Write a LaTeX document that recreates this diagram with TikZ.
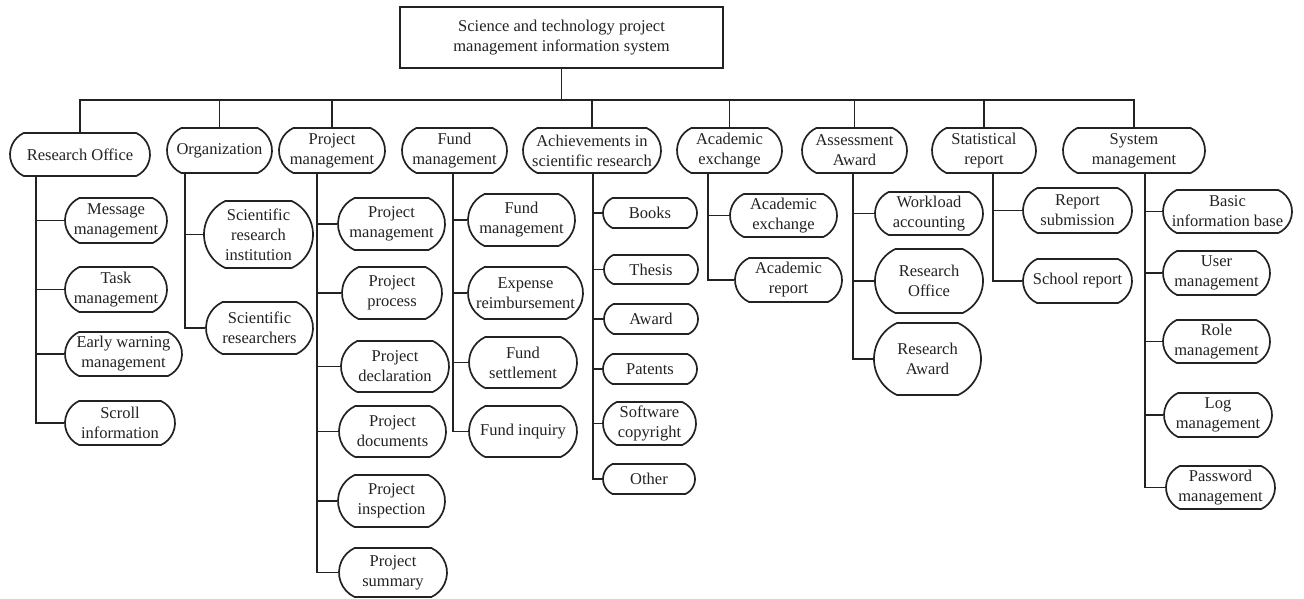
\documentclass[tikz,border=0pt]{standalone}
\usepackage{fontspec}
\setmainfont{Liberation Serif}
\usetikzlibrary{shapes.misc}
\definecolor{ink}{HTML}{222222}
\tikzset{
  labelfont/.style={font=\fontsize{16.5}{20}\selectfont, text=ink},
  pill/.style={rounded rectangle, rounded rectangle arc length=130,
    draw=ink, line width=1.7pt, inner xsep=0pt, inner ysep=0pt,
    align=center, labelfont},
  rootbox/.style={rectangle, draw=ink, line width=1.7pt, align=center,
    inner sep=0pt, labelfont},
  link/.style={draw=ink, line width=1.7pt}
}
% pill-shaped node given by its bounding corners (x1,y1) and (x2,y2)
\newcommand\pillnode[6]{%
  \node[pill, minimum width={#4-#2}, minimum height={#5-#3}] (#1)
    at ({(#2+#4)/2},{(#3+#5)/2}) {#6};}
% vertical trunk below a parent, with one horizontal branch per child
\newcommand\trunk[4]{%
  \coordinate (#1T) at (#2,0);
  \draw[link] (#1.south -| #1T) |- (#3.west);
  \foreach \c in {#4} {\draw[link] (\c.west) -- (\c.west -| #1T);}}
\begin{document}
\begin{tikzpicture}[x=1pt,y=-1pt]
\useasboundingbox (0,0) rectangle (1304,598);

% root
\node[rootbox, minimum width=323, minimum height=61] (root) at (561.5,37.5)
  {Science and technology project\\management information system};

% first level
\pillnode{ro}{10}{133}{150}{176}{Research Office}
\pillnode{org}{167}{128}{272}{173}{Organization}
\pillnode{pm}{279}{128}{385}{173}{Project\\management}
\pillnode{fm}{402}{128}{507}{173}{Fund\\management}
\pillnode{ach}{523}{128}{661}{173}{Achievements in\\scientific research}
\pillnode{ae}{677}{128}{782}{173}{Academic\\exchange}
\pillnode{aa}{802}{128}{907}{173}{Assessment\\Award}
\pillnode{sr}{932}{128}{1036}{173}{Statistical\\report}
\pillnode{sm}{1063}{128}{1205}{173}{System\\management}

% bus
\coordinate (bus) at (0,100);
\draw[link] (root.south) -- (root.south |- bus);
\draw[link] (ro.north) |- (sm.north |- bus) -- (sm.north);
\foreach \n in {org,pm,ach,ae,aa,sr}
  \draw[link] (\n.north) -- (\n.north |- bus);

% Research Office
\pillnode{ro1}{65}{198}{167}{243}{Message\\management}
\pillnode{ro2}{65}{267}{167}{312}{Task\\management}
\pillnode{ro3}{65}{332}{182}{376}{Early warning\\management}
\pillnode{ro4}{65}{401}{175}{445}{Scroll\\information}
\trunk{ro}{36}{ro4}{ro1,ro2,ro3}

% Organization
\pillnode{or1}{204}{201}{313}{268}{Scientific\\research\\institution}
\pillnode{or2}{206}{302}{313}{354}{Scientific\\researchers}
\trunk{org}{185}{or2}{or1}

% Project management
\pillnode{pm1}{338}{198}{445}{250}{Project\\management}
\pillnode{pm2}{342}{267}{442}{319}{Project\\process}
\pillnode{pm3}{341}{341}{449}{392}{Project\\declaration}
\pillnode{pm4}{339}{406}{446}{457}{Project\\documents}
\pillnode{pm5}{338}{475}{445}{527}{Project\\inspection}
\pillnode{pm6}{339}{548}{447}{597}{Project\\summary}
\trunk{pm}{317}{pm6}{pm1,pm2,pm3,pm4,pm5}

% Fund management
\pillnode{fm1}{468}{194}{575}{246}{Fund\\management}
\pillnode{fm2}{468}{267}{583}{319}{Expense\\reimbursement}
\pillnode{fm3}{469}{337}{577}{388}{Fund\\settlement}
\pillnode{fm4}{469}{406}{577}{457}{Fund inquiry}
\trunk{fm}{453}{fm4}{fm1,fm2,fm3}

% Achievements in scientific research
\pillnode{a1}{603}{198}{697}{228}{Books}
\pillnode{a2}{604}{255}{698}{284}{Thesis}
\pillnode{a3}{604}{304}{698}{334}{Award}
\pillnode{a4}{603}{354}{697}{384}{Patents}
\pillnode{a5}{603}{402}{696}{445}{Software\\copyright}
\pillnode{a6}{603}{464}{695}{494}{Other}
\trunk{ach}{593}{a6}{a1,a2,a3,a4,a5}

% Academic exchange
\pillnode{e1}{730}{194}{837}{237}{Academic\\exchange}
\pillnode{e2}{735}{258}{842}{302}{Academic\\report}
\trunk{ae}{708}{e2}{e1}

% Assessment Award
\pillnode{w1}{875}{192}{983}{235}{Workload\\accounting}
\pillnode{w2}{875}{249}{983}{313}{Research\\Office}
\pillnode{w3}{874}{323}{981}{395}{Research\\Award}
\trunk{aa}{853}{w3}{w1,w2}

% Statistical report
\pillnode{s1}{1023}{188}{1132}{233}{Report\\submission}
\pillnode{s2}{1023}{259}{1132}{303}{School report}
\trunk{sr}{993}{s2}{s1}

% System management
\pillnode{m1}{1163}{190}{1292}{233}{Basic\\information base}
\pillnode{m2}{1163}{251}{1270}{295}{User\\management}
\pillnode{m3}{1163}{320}{1270}{363}{Role\\management}
\pillnode{m4}{1164}{393}{1272}{437}{Log\\management}
\pillnode{m5}{1166}{466}{1275}{509}{Password\\management}
\trunk{sm}{1145}{m5}{m1,m2,m3,m4}
\end{tikzpicture}
\end{document}
